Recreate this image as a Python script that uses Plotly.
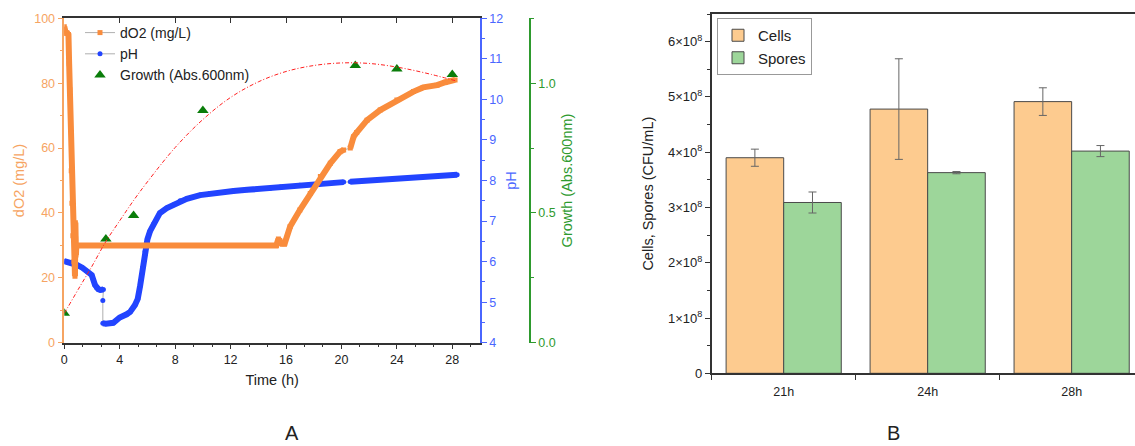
import plotly.graph_objects as go

# ---------------- Panel A data ----------------
DO2_T = [0, 0.05, 0.1, 0.2, 0.3, 0.35, 0.4, 0.45, 0.5, 0.55, 0.62, 0.7, 0.77, 0.8, 0.82, 0.84, 0.87,
         2, 4, 6, 8, 10, 12, 14, 15.3, 15.45, 15.55, 15.7, 15.9, 16.3, 17.0, 17.75, 18.48, 19.2,
         19.9, 20.16, 20.64, 20.88, 21.1, 21.85, 22.8, 24.0, 25.2, 25.9, 26.9, 27.5, 28.2]
DO2_V = [97.4, 96, 95.5, 95.5, 95, 86, 78, 66, 53, 43, 33, 25, 20.5, 37, 32, 27, 30,
         30, 30, 30, 30, 30, 30, 30, 30, 32, 31.5, 30.5, 30.5, 35.8, 40.9, 46, 51.2, 55.3,
         58.9, 59.4, 60, 63.5, 64.8, 68.6, 71.7, 74.8, 77.4, 78.7, 79.4, 80.3, 81]
# segment id for each dO2 point (the thick band is broken between segments)
DO2_SEG = [0] * 36 + [1] * 11

PH_T = [0, 0.5, 0.9, 1.3, 1.6, 1.98, 2.22, 2.34, 2.46, 2.6, 2.82, 2.78,
        2.78, 3.0, 3.54, 4.0, 4.5, 4.75, 5.1, 5.3, 5.47, 5.65, 5.83, 6.0, 6.19, 6.43, 6.9,
        7.4, 7.9, 8.36, 8.84, 9.8, 10.5, 12.2, 13.2, 14.86, 15.6, 17.0, 18.5, 20.16,
        20.64, 22, 24, 26, 28.35]
PH_V = [6.01, 5.97, 5.92, 5.85, 5.77, 5.67, 5.42, 5.35, 5.32, 5.30, 5.31, 5.04,
        4.48, 4.47, 4.49, 4.62, 4.70, 4.76, 4.93, 5.08, 5.40, 5.85, 6.25, 6.55, 6.75, 6.92, 7.2,
        7.32, 7.4, 7.5, 7.55, 7.64, 7.68, 7.74, 7.77, 7.81, 7.84, 7.88, 7.92, 7.96,
        7.97, 8.0, 8.05, 8.1, 8.14]
PH_SEG = [0] * 11 + [-1] + [1] * 28 + [2] * 5

GROWTH_T = [0, 3, 5, 10, 21, 24, 28]
GROWTH_V = [0.113, 0.40, 0.49, 0.895, 1.068, 1.055, 1.033]

FIT_T = [0, 1, 2, 3, 4, 5, 6, 8, 10, 12, 14, 16, 18, 20, 22, 24, 26, 28.2]
FIT_V = [0.113, 0.205, 0.295, 0.39, 0.47, 0.548, 0.62, 0.752, 0.86, 0.945, 1.005, 1.045,
         1.068, 1.078, 1.076, 1.062, 1.04, 1.01]

# ---------------- Panel B data ----------------
CATS = ["21h", "24h", "28h"]
CELLS = [3.90e8, 4.78e8, 4.915e8]
CELLS_ERR = [0.155e8, 0.91e8, 0.25e8]
SPORES = [3.09e8, 3.63e8, 4.02e8]
SPORES_ERR = [0.19e8, 0.02e8, 0.10e8]
B_TICKS = [0, 1e8, 2e8, 3e8, 4e8, 5e8, 6e8]
B_TICKTEXT = ["0"] + [f"{i}×10<sup>8</sup>" for i in range(1, 7)]

ORANGE = "#F98C3C"
ORANGE_AX = "#F6A462"
BLUE = "#2244FF"
BLUE_AX = "#4A66FF"
GREEN_AX = "#2E9A2E"
GREEN_MK = "#0A7D0A"
FONT = "Liberation Sans, Arial, sans-serif"


def banded(t, v, seg):
    xs, ys = [], []
    prev = None
    for ti, vi, si in zip(t, v, seg):
        if si < 0:
            continue
        if prev is not None and si != prev:
            xs.append(None)
            ys.append(None)
        xs.append(ti)
        ys.append(vi)
        prev = si
    return xs, ys


fig = go.Figure()

# legend traces (thin gray line + markers)
fig.add_trace(go.Scatter(x=DO2_T, y=DO2_V, mode="lines+markers", name="dO2 (mg/L)",
                         line=dict(color="#9a9a9a", width=0.8),
                         marker=dict(symbol="square", size=5, color=ORANGE),
                         xaxis="x", yaxis="y2", legend="legend"))
fig.add_trace(go.Scatter(x=PH_T, y=PH_V, mode="lines+markers", name="pH",
                         line=dict(color="#9a9a9a", width=0.8),
                         marker=dict(symbol="circle", size=5, color=BLUE),
                         xaxis="x", yaxis="y", legend="legend"))
fig.add_trace(go.Scatter(x=GROWTH_T, y=GROWTH_V, mode="markers", name="Growth (Abs.600nm)",
                         marker=dict(symbol="triangle-up", size=10, color=GREEN_MK),
                         xaxis="x", yaxis="y3", legend="legend"))

# thick bands formed by dense markers
bx, by = banded(DO2_T, DO2_V, DO2_SEG)
fig.add_trace(go.Scatter(x=bx, y=by, mode="lines", showlegend=False,
                         line=dict(color=ORANGE, width=6), xaxis="x", yaxis="y2"))
px_, py_ = banded(PH_T, PH_V, PH_SEG)
fig.add_trace(go.Scatter(x=px_, y=py_, mode="lines", showlegend=False,
                         line=dict(color=BLUE, width=6), xaxis="x", yaxis="y"))
# fitted growth curve
fig.add_trace(go.Scatter(x=FIT_T, y=FIT_V, mode="lines", showlegend=False,
                         line=dict(color="#FF2020", width=1, dash="4px,2px,1px,2px", shape="spline"),
                         xaxis="x", yaxis="y3"))
# hidden trace to activate the top mirror axis
fig.add_trace(go.Scatter(x=[None], y=[None], showlegend=False, xaxis="x3", yaxis="y", hoverinfo="skip"))

# ---------------- Panel B traces ----------------
fig.add_trace(go.Bar(x=CATS, y=CELLS, name="Cells", marker=dict(color="#FDCB8F", line=dict(color="#4a4a4a", width=1)),
                     error_y=dict(type="data", array=CELLS_ERR, color="#666666", thickness=1, width=4),
                     xaxis="x2", yaxis="y4", legend="legend2"))
fig.add_trace(go.Bar(x=CATS, y=SPORES, name="Spores", marker=dict(color="#9DD69A", line=dict(color="#4a4a4a", width=1)),
                     error_y=dict(type="data", array=SPORES_ERR, color="#666666", thickness=1, width=4),
                     xaxis="x2", yaxis="y4", legend="legend2"))

XA = [64.3 / 1135, 480 / 1135]
YA = [(446 - 342.7) / 446, (446 - 18.3) / 446]
XB = [711.7 / 1135, 1.0]
YB = [(446 - 373.3) / 446, (446 - 14) / 446]

fig.update_layout(
    width=1135, height=446,
    margin=dict(l=0, r=0, t=0, b=0, autoexpand=False),
    paper_bgcolor="white", plot_bgcolor="rgba(0,0,0,0)",
    font=dict(family=FONT, size=12, color="#222"),
    barmode="group", bargap=0.2, bargroupgap=0,
    xaxis=dict(domain=XA, range=[0, 30], anchor="y", tick0=0, dtick=4, automargin=False,
               ticks="outside", ticklen=5, tickcolor="#333", showline=True, linecolor="#333", linewidth=1.5,
               minor=dict(dtick=4 / 3, ticks="outside", ticklen=3, tickcolor="#333"),
               showgrid=False, zeroline=False, tickfont=dict(size=12.5, color="#222"),
               title=dict(text="Time (h)", font=dict(size=14.5, color="#222"), standoff=8)),
    xaxis3=dict(domain=XA, range=[0, 30], anchor="y", overlaying="x", side="top", tick0=0, dtick=4,
                automargin=False,
                ticks="inside", ticklen=5, tickcolor="#333", showline=True, linecolor="#333", linewidth=1.5,
                showticklabels=False, showgrid=False, zeroline=False),
    yaxis=dict(domain=YA, range=[4, 12], anchor="x", side="right", dtick=1, automargin=False,
               ticks="outside", ticklen=5, tickcolor=BLUE_AX, showline=True, linecolor=BLUE_AX, linewidth=1.5,
               minor=dict(dtick=0.5, ticks="outside", ticklen=3, tickcolor=BLUE_AX),
               showgrid=False, zeroline=False, tickfont=dict(size=12.5, color=BLUE_AX),
               title=dict(text="pH", font=dict(size=14.5, color=BLUE_AX), standoff=4)),
    yaxis2=dict(domain=YA, range=[0, 100], anchor="x", overlaying="y", side="left", dtick=20,
                automargin=False,
                ticks="outside", ticklen=5, tickcolor=ORANGE_AX, showline=True, linecolor=ORANGE_AX, linewidth=1.5,
                minor=dict(dtick=10, ticks="outside", ticklen=3, tickcolor=ORANGE_AX),
                showgrid=False, zeroline=False, tickfont=dict(size=12.5, color=ORANGE_AX),
                title=dict(text="dO2 (mg/L)", font=dict(size=14.5, color=ORANGE_AX), standoff=6)),
    yaxis3=dict(domain=YA, range=[0, 1.25], anchor="free", overlaying="y", side="right",
                position=530 / 1135, tickvals=[0, 0.5, 1.0], ticktext=["0.0", "0.5", "1.0"],
                automargin=False,
                ticks="outside", ticklen=5, tickcolor=GREEN_AX, showline=True, linecolor=GREEN_AX, linewidth=1.5,
                minor=dict(tickvals=[0.25, 0.75, 1.25], ticks="outside", ticklen=3, tickcolor=GREEN_AX),
                showgrid=False, zeroline=False, tickfont=dict(size=12.5, color=GREEN_AX),
                title=dict(text="Growth (Abs.600nm)", font=dict(size=14.5, color=GREEN_AX), standoff=6)),
    xaxis2=dict(domain=XB, anchor="y4", type="category", range=[-0.5, 2.44], automargin=False,
                tickson="boundaries", ticks="outside", ticklen=5, tickcolor="#333", ticklabelstandoff=6,
                showline=True, linecolor="#333", linewidth=1.5, mirror=True,
                showgrid=False, zeroline=False, tickfont=dict(size=12.5, color="#222")),
    yaxis4=dict(domain=YB, anchor="x2", range=[0, 6.5e8], tickvals=B_TICKS, ticktext=B_TICKTEXT,
                automargin=False,
                ticks="outside", ticklen=5, tickcolor="#333", showline=True, linecolor="#333", linewidth=1.5,
                minor=dict(dtick=0.5e8, ticks="outside", ticklen=3, tickcolor="#333"),
                showgrid=False, zeroline=False, tickfont=dict(size=13, color="#222"),
                title=dict(text="Cells, Spores (CFU/mL)", font=dict(size=14.5, color="#222"), standoff=11)),
    legend=dict(x=80 / 1135, y=(446 - 17) / 446, xanchor="left", yanchor="top",
                bgcolor="rgba(255,255,255,0)", font=dict(size=14, color="#222"),
                tracegroupgap=0, itemwidth=30),
    legend2=dict(x=717 / 1135, y=(446 - 18) / 446, xanchor="left", yanchor="top",
                 bgcolor="white", bordercolor="#999", borderwidth=1, font=dict(size=15, color="#222")),
    annotations=[
        dict(text="A", x=292 / 1135, y=(446 - 433) / 446, xref="paper", yref="paper",
             xanchor="center", yanchor="middle",
             showarrow=False, font=dict(size=20, color="#222")),
        dict(text="B", x=893 / 1135, y=(446 - 433) / 446, xref="paper", yref="paper",
             xanchor="center", yanchor="middle",
             showarrow=False, font=dict(size=20, color="#222")),
    ],
)

fig.write_html("out.html")
